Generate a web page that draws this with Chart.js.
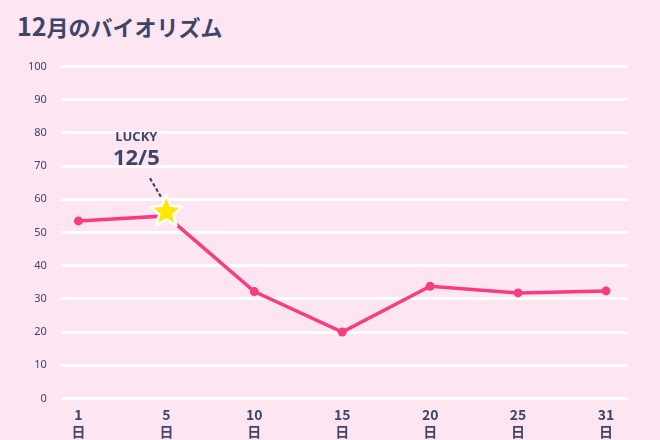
<!DOCTYPE html>
<html><head><meta charset="utf-8">
<script src="https://cdn.jsdelivr.net/npm/chart.js@4"></script>
<style>
html,body{margin:0;padding:0;background:#fde6f1;}
#wrap{position:relative;width:660px;height:440px;}
h1{position:absolute;left:17px;top:7px;margin:0;font:bold 22px "Noto Sans CJK JP","Noto Sans",sans-serif;color:#3f4566;}
h1 span{font-size:25px;}
#box{position:absolute;left:14px;top:46px;width:626px;height:394px;}
</style></head>
<body><div id="wrap"><h1><span>12</span>月のバイオリズム</h1><div id="box"><canvas id="c"></canvas></div></div>
<script>
const days = ["1", "5", "10", "15", "20", "25", "31"];
const biorhythm = [53.5, 55, 32.2, 20, 33.8, 31.8, 32.4];
const luckyIndex = 1;
const luckyLabel = ["LUCKY", "12/5"];

const ink = "#3f4566";
const pink = "#f73d82";

// filled star on the lucky day plus its dotted callout
const luckyPlugin = {
  id: "lucky",
  afterDatasetsDraw(chart) {
    const ctx = chart.ctx;
    const pt = chart.getDatasetMeta(0).data[luckyIndex];
    const x = pt.x, y = pt.y - 5;
    ctx.save();
    ctx.setLineDash([2, 4]);
    ctx.lineCap = "round";
    ctx.strokeStyle = ink;
    ctx.lineWidth = 2.2;
    ctx.beginPath();
    ctx.moveTo(x - 16, y - 32);
    ctx.lineTo(x - 6, y - 15);
    ctx.stroke();
    ctx.setLineDash([]);
    ctx.beginPath();
    for (let i = 0; i < 10; i++) {
      const r = i % 2 ? 7.5 : 17;
      const a = -Math.PI / 2 + i * Math.PI / 5;
      ctx.lineTo(x + r * Math.cos(a), y + 1 + r * Math.sin(a));
    }
    ctx.closePath();
    ctx.fillStyle = "#ffe800";
    ctx.strokeStyle = "#ffffff";
    ctx.lineWidth = 2.5;
    ctx.lineJoin = "round";
    ctx.fill();
    ctx.stroke();
    ctx.fillStyle = ink;
    ctx.textAlign = "center";
    ctx.font = "bold 13px 'Noto Sans', sans-serif";
    ctx.fillText(luckyLabel[0], x - 30, y - 70);
    ctx.font = "bold 22px 'Noto Sans', sans-serif";
    ctx.fillText(luckyLabel[1], x - 30, y - 46);
    ctx.restore();
  }
};

new Chart(document.getElementById("c"), {
  type: "line",
  data: {
    datasets: [{
      data: biorhythm.map((v, i) => ({ x: i, y: v })),
      borderColor: pink,
      backgroundColor: pink,
      borderWidth: 3.5,
      pointRadius: biorhythm.map((v, i) => i === luckyIndex ? 0 : 4.5),
      pointBorderWidth: 0,
      tension: 0
    }]
  },
  options: {
    responsive: true,
    maintainAspectRatio: false,
    animation: false,
    layout: { padding: { right: 12, top: 0 } },
    plugins: { legend: { display: false }, tooltip: { enabled: false } },
    scales: {
      x: {
        type: "linear",
        min: -0.2, max: 6.25,
        afterBuildTicks: s => { s.ticks = days.map((d, i) => ({ value: i })); },
        grid: { display: false },
        border: { display: false },
        ticks: {
          callback: v => [days[v], "日"],
          color: ink, font: { size: 14, weight: "bold", family: "'Noto Sans CJK JP', sans-serif" }, padding: 0
        }
      },
      y: {
        min: 0, max: 100,
        ticks: { stepSize: 10, color: ink, font: { size: 11, family: "'Noto Sans', sans-serif" }, padding: 14 },
        grid: { color: "#ffffff", lineWidth: 3, drawTicks: false },
        border: { display: false }
      }
    }
  },
  plugins: [luckyPlugin]
});
</script></body></html>
